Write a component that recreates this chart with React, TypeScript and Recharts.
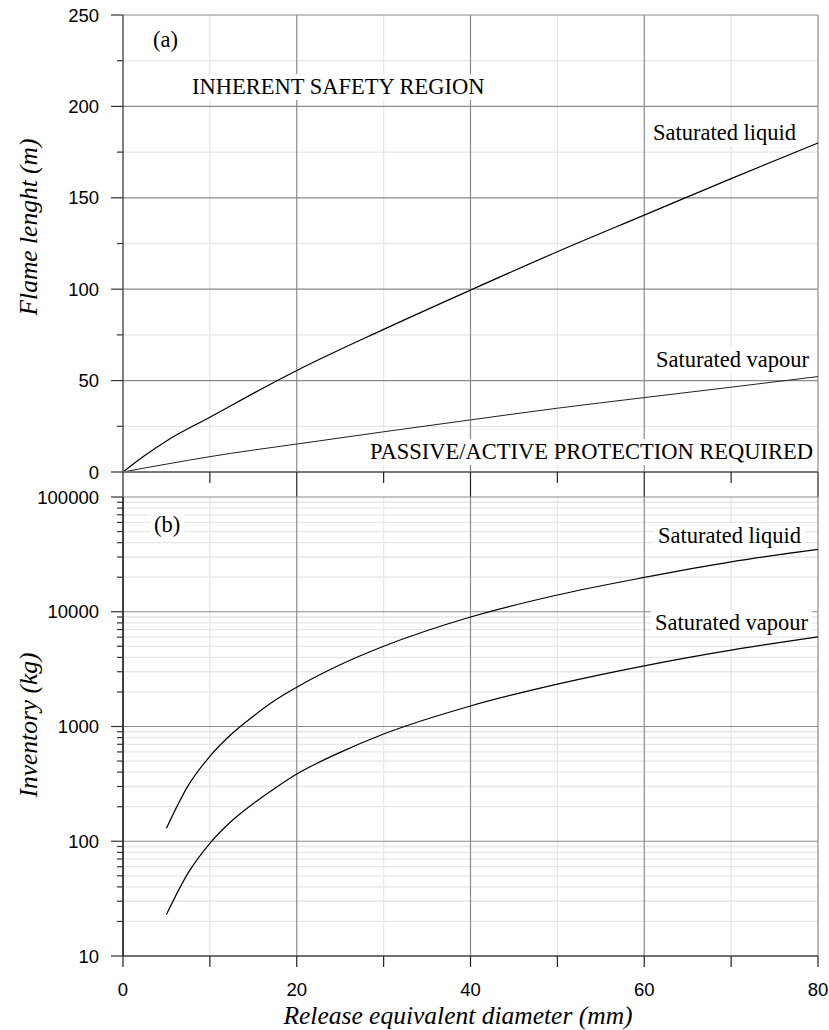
import React from "react";
import { LineChart, Line, XAxis, YAxis, CartesianGrid } from "recharts";

// (a) flame length vs release diameter
const flameDiameter = [0, 2.5, 5, 10, 15, 20, 30, 40, 50, 60, 70, 80];
const flameLiquid = [0, 9, 17, 30, 43, 55.5, 78, 99.5, 120.5, 140.5, 160.5, 180];
const flameVapour = [0, 2.2, 4.3, 8.4, 12, 15.3, 22, 28.5, 34.9, 40.7, 46.4, 52.2];

// (b) inventory vs release diameter
const invDiameter = [5, 7.5, 10, 12.5, 15, 17.5, 20, 25, 30, 40, 50, 60, 70, 80];
const invLiquid = [130, 305, 550, 860, 1230, 1690, 2200, 3450, 5000, 9000, 14000, 19900, 27200, 34900];
const invVapour = [23, 53, 96, 150, 213, 290, 385, 595, 860, 1510, 2340, 3380, 4630, 6040];

const xTicks = [0, 10, 20, 30, 40, 50, 60, 70, 80];
const xMajor = [0, 20, 40, 60, 80];
const flameTicks = [0, 25, 50, 75, 100, 125, 150, 175, 200, 225, 250];
const flameMajor = [0, 50, 100, 150, 200, 250];
const invMajor = [10, 100, 1000, 10000, 100000];
const invTicks = invMajor.flatMap((d) => (d === 100000 ? [d] : [1, 2, 3, 4, 5, 6, 7, 8, 9].map((k) => k * d)));

const flameData = flameDiameter.map((d, i) => ({ d, liquid: flameLiquid[i], vapour: flameVapour[i] }));
const invData = invDiameter.map((d, i) => ({ d, liquid: invLiquid[i], vapour: invVapour[i] }));

const SANS = "'Liberation Sans', Arial, sans-serif";
const SERIF = "'Liberation Serif', 'Times New Roman', serif";
const MINOR = "#e6e6e6";
const MAJOR = "#8a8a8a";

const yTick = (major: number[]) => (props: any) => {
  const { x, y, payload } = props;
  const isMajor = major.includes(payload.value);
  return (
    <g>
      <line x1={x - (isMajor ? 12 : 6)} x2={x} y1={y} y2={y} stroke="#333" strokeWidth={1.2} />
      {isMajor && (
        <text x={x - 24} y={y} dy="0.36em" textAnchor="end" fontFamily={SANS} fontSize={18.5} fill="#000">
          {payload.value}
        </text>
      )}
    </g>
  );
};

const topXTick = (props: any) => {
  const { x, y, payload } = props;
  const len = xMajor.includes(payload.value) ? 25 : 11;
  return <line x1={x} x2={x} y1={y} y2={y + len} stroke="#222" strokeWidth={1.2} />;
};

const bottomXTick = (props: any) => {
  const { x, y, payload } = props;
  return (
    <g>
      <line x1={x} x2={x} y1={y} y2={y + 11} stroke="#222" strokeWidth={1.2} />
      {xMajor.includes(payload.value) && (
        <text x={x} y={y + 40} textAnchor="middle" fontFamily={SANS} fontSize={18.5} fill="#000">
          {payload.value}
        </text>
      )}
    </g>
  );
};

const Note = ({ left, right, cy, children }: { left?: number; right?: number; cy: number; children: React.ReactNode }) => (
  <div
    style={{
      position: "absolute",
      left: left !== undefined ? left - 4 : undefined,
      right: right !== undefined ? 829 - right - 4 : undefined,
      top: cy - 13,
      lineHeight: "26px",
      padding: "0 4px",
      background: "#fff",
      fontFamily: SERIF,
      fontSize: 22.5,
      whiteSpace: "nowrap",
      color: "#000",
    }}
  >
    {children}
  </div>
);

const AxisTitle = ({ cx, cy, rotate, children }: { cx: number; cy: number; rotate?: boolean; children: React.ReactNode }) => (
  <div
    style={{
      position: "absolute",
      left: cx - 250,
      top: cy - 15,
      width: 500,
      lineHeight: "30px",
      textAlign: "center",
      fontFamily: SERIF,
      fontStyle: "italic",
      fontSize: 25.5,
      color: "#000",
      transform: rotate ? "rotate(-90deg)" : undefined,
    }}
  >
    {children}
  </div>
);

export default function App() {
  return (
    <div style={{ position: "absolute", left: 0, top: 0, width: 829, height: 1030, background: "#fff", overflow: "hidden" }}>
      <div style={{ position: "absolute", left: 0, top: 0 }}>
        <LineChart width={829} height={497} data={flameData} margin={{ top: 15, right: 11, bottom: 0, left: 0 }}>
          <CartesianGrid stroke={MINOR} strokeWidth={1.3} horizontalValues={[25, 75, 125, 175, 225]} verticalValues={[10, 30, 50, 70]} />
          <CartesianGrid stroke={MAJOR} strokeWidth={1.2} horizontalValues={[50, 100, 150, 200, 250]} verticalValues={[20, 40, 60, 80]} />
          <XAxis
            dataKey="d"
            type="number"
            domain={[0, 80]}
            ticks={xTicks}
            interval={0}
            height={25}
            tickSize={0}
            tickMargin={0}
            tick={topXTick}
            axisLine={{ stroke: "#777", strokeWidth: 2 }}
          />
          <YAxis
            type="number"
            domain={[0, 250]}
            ticks={flameTicks}
            interval={0}
            width={123}
            tickSize={0}
            tickMargin={0}
            tick={yTick(flameMajor)}
            axisLine={{ stroke: "#555", strokeWidth: 1.5 }}
          />
          <Line type="monotone" dataKey="liquid" stroke="#000" strokeWidth={1.2} dot={false} isAnimationActive={false} />
          <Line type="monotone" dataKey="vapour" stroke="#222" strokeWidth={1} dot={false} isAnimationActive={false} />
        </LineChart>
      </div>
      <div style={{ position: "absolute", left: 0, top: 480 }}>
        <LineChart width={829} height={530} data={invData} margin={{ top: 17, right: 11, bottom: 0, left: 0 }}>
          <CartesianGrid
            stroke={MINOR}
            strokeWidth={1.3}
            horizontalValues={invTicks.filter((v) => !invMajor.includes(v))}
            verticalValues={[10, 30, 50, 70]}
          />
          <CartesianGrid stroke={MAJOR} strokeWidth={1.2} horizontalValues={invMajor} verticalValues={[20, 40, 60, 80]} />
          <XAxis
            dataKey="d"
            type="number"
            domain={[0, 80]}
            ticks={xTicks}
            interval={0}
            height={54}
            tickSize={0}
            tickMargin={0}
            tick={bottomXTick}
            axisLine={{ stroke: "#555", strokeWidth: 1.5 }}
          />
          <YAxis
            type="number"
            scale="log"
            domain={[10, 100000]}
            allowDataOverflow
            ticks={invTicks}
            interval={0}
            width={123}
            tickSize={0}
            tickMargin={0}
            tick={yTick(invMajor)}
            axisLine={{ stroke: "#000", strokeWidth: 1.5 }}
          />
          <Line type="monotone" dataKey="liquid" stroke="#000" strokeWidth={1.2} dot={false} isAnimationActive={false} />
          <Line type="monotone" dataKey="vapour" stroke="#000" strokeWidth={1.2} dot={false} isAnimationActive={false} />
        </LineChart>
      </div>

      <Note left={153} cy={40}>(a)</Note>
      <Note left={192} cy={87}>INHERENT SAFETY REGION</Note>
      <Note left={653} cy={133}>Saturated liquid</Note>
      <Note left={656} cy={360}>Saturated vapour</Note>
      <Note right={813} cy={452}>PASSIVE/ACTIVE PROTECTION REQUIRED</Note>
      <Note left={154} cy={525}>(b)</Note>
      <Note left={658} cy={536}>Saturated liquid</Note>
      <Note left={655} cy={623}>Saturated vapour</Note>

      <AxisTitle cx={29} cy={227} rotate>Flame lenght (m)</AxisTitle>
      <AxisTitle cx={29} cy={725} rotate>Inventory (kg)</AxisTitle>
      <AxisTitle cx={458} cy={1016}>Release equivalent diameter (mm)</AxisTitle>
    </div>
  );
}
